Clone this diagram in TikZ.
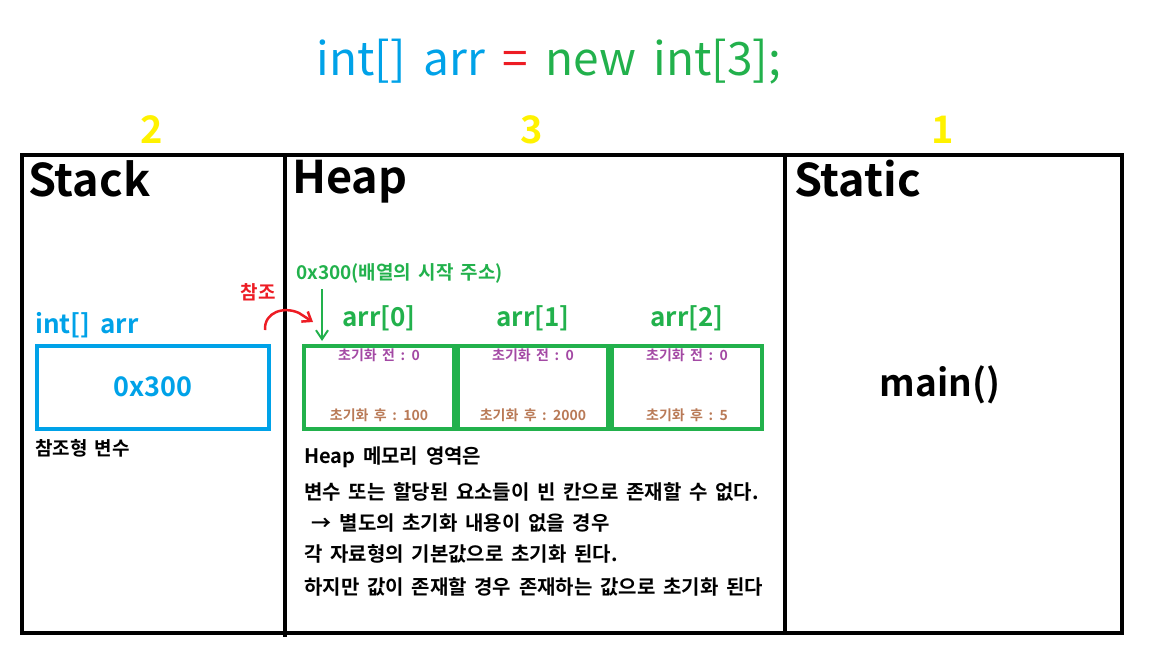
\documentclass[tikz,border=0pt]{standalone}
\usepackage{fontspec}
\setmainfont{Noto Sans CJK KR}[BoldFont={Noto Sans CJK KR Bold}, WordSpace={1.7}]
\usepackage{xcolor}
\usepackage{tikz}
\usetikzlibrary{positioning, arrows.meta, calc}
\definecolor{paintblue}{HTML}{00A2E8}
\definecolor{paintgreen}{HTML}{22B14C}
\definecolor{paintred}{HTML}{ED1C24}
\definecolor{paintyellow}{HTML}{FFF200}
\definecolor{paintpurple}{HTML}{A349A4}
\definecolor{paintbrown}{HTML}{B97A57}
\newcommand{\fsz}[1]{\fontsize{#1}{#1}\selectfont}
\tikzset{
  panel/.style={draw=black, line width=4pt},
  title/.style={font=\fsz{46}, inner sep=0pt},
  order/.style={font=\fsz{38}\bfseries, text=paintyellow, inner sep=0pt},
  area/.style={font=\fsz{45}\bfseries, anchor=north west, inner sep=0pt},
  varname/.style={font=\fsz{26}\bfseries, inner sep=0pt},
  memcell/.style={draw=paintgreen, line width=4pt, minimum width=150pt, minimum height=83pt, inner sep=0pt},
  before/.style={font=\fsz{14}\bfseries, text=paintpurple, inner sep=0pt},
  after/.style={font=\fsz{14}\bfseries, text=paintbrown, inner sep=0pt},
  note/.style={font=\fsz{20}\bfseries, inner sep=0pt},
  ptr/.style={-{Straight Barb[length=9pt, width=12pt]}, line width=2pt, draw=paintgreen},
  refarrow/.style={-{Straight Barb[length=8pt, width=12pt]}, line width=2.5pt, draw=paintred},
}
\begin{document}
\begin{tikzpicture}[x=1pt, y=-1pt]
  \useasboundingbox (0,0) rectangle (1152,648);
  % code line on top
  \node[title] (code) at (549,62)
    {\textcolor{paintblue}{int[] arr}\ \textcolor{paintred}{=}\ \textcolor{paintgreen}{new int[3];}};
  % order of the areas
  \node[order] (n2) at (152,130) {2};
  \node[order] (n3) at (532,130) {3};
  \node[order] (n1) at (943,130) {1};

  % memory frame
  \draw[panel] (22,155) rectangle (1122,633);
  \draw[panel] (285,155) -- (285,637);
  \draw[panel] (785,155) -- (785,633);
  \node[area] (stack) at (28,160) {Stack};
  \node[area] (heap) at (292,160) {Heap};
  \node[area] (static) at (794,160) {Static};

  % Stack
  \node[varname, text=paintblue, anchor=west] (var) at (35,325) {int[] arr};
  \node[draw=paintblue, line width=4pt, minimum width=232pt, minimum height=83pt,
        font=\fsz{27}\bfseries, text=paintblue] (ref) at (153,387) {0x300};
  \node[font=\fsz{19}\bfseries, anchor=west, inner sep=0pt] (reftype) at (35,448) {참조형 변수};

  % Heap cells
  \node[memcell] (c0) at (379,387) {};
  \node[memcell, right=0pt of c0] (c1) {};
  \node[memcell, right=0pt of c1] (c2) {};
  \foreach \i/\v in {0/100, 1/2000, 2/5} {
    \node[varname, text=paintgreen, above=12pt of c\i] (idx\i) {arr[\i]};
    \node[before, below=5pt of c\i.north] (b\i) {초기화 전 : 0};
    \node[after, above=9pt of c\i.south] (a\i) {초기화 후 : \v};
  }
  \node[font=\fsz{19}\bfseries, text=paintgreen, anchor=west, inner sep=0pt] (addr) at (296,273)
    {0x300(배열의 시작 주소)};
  \coordinate (ptrtip) at (322,341);
  \draw[ptr] (addr.south -| ptrtip) ++(0,6) -- (ptrtip);

  % reference mark
  \node[font=\fsz{19}\bfseries, text=paintred, inner sep=0pt] (refmark) at (258,292) {참조};
  \coordinate (refstart) at (265,330);
  \coordinate (refend) at (313,322);
  \draw[refarrow] (refstart) .. controls (264,312) and (284,306) .. (299,313) -- (refend);

  \node[note, anchor=north west, align=left] (heapnote) at (304,447) {%
    Heap 메모리 영역은\\[13pt]
    변수 또는 할당된 요소들이 빈 칸으로 존재할 수 없다.\\[11pt]
    \ → 별도의 초기화 내용이 없을 경우\\[11pt]
    각 자료형의 기본값으로 초기화 된다.\\[13pt]
    하지만 값이 존재할 경우 존재하는 값으로 초기화 된다};

  % Static
  \node[font=\fsz{37}\bfseries, inner sep=0pt] (mainfn) at (940,385) {main()};
\end{tikzpicture}
\end{document}
